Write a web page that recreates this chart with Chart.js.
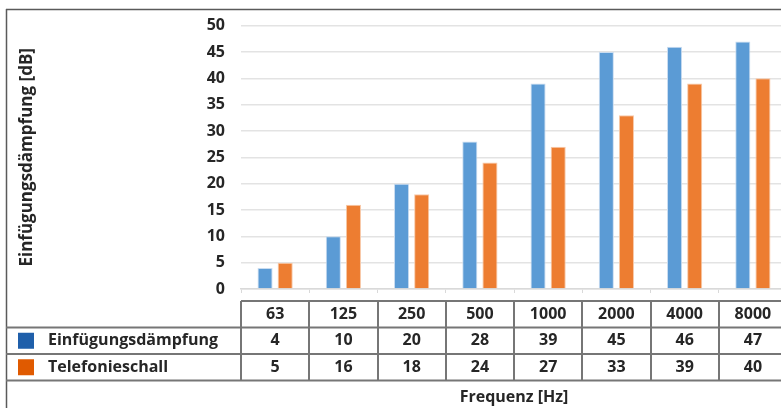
<!DOCTYPE html>
<html>
<head>
<meta charset="utf-8">
<script src="https://cdn.jsdelivr.net/npm/chart.js@4/dist/chart.umd.min.js"></script>
<style>
  html, body { margin: 0; padding: 0; background: #fff; overflow: hidden; }
  #wrap { width: 787px; height: 408px; }
</style>
</head>
<body>
<div id="wrap"><canvas id="chart" width="787" height="408"></canvas></div>
<script>
// Data
const frequencies = ["63", "125", "250", "500", "1000", "2000", "4000", "8000"];
const einfuegung = [4, 10, 20, 28, 39, 45, 46, 47];
const telefonie = [5, 16, 18, 24, 27, 33, 39, 40];
const seriesNames = ["Einfügungsdämpfung", "Telefonieschall"];

const FONT = "'Open Sans', Roboto, sans-serif";
const TEXT = "#262626";
const LINE = "#767676";

// Data table under the plot
const dataTable = {
  id: "dataTable",
  afterDraw(chart) {
    const { ctx, scales: { x } } = chart;
    const W = chart.width;
    const half = (x.getPixelForValue(1) - x.getPixelForValue(0)) / 2;
    const rows = [301, 327.5, 354, 380.5];
    const legendColors = ["#1F5FAA", "#E05A00"];
    const values = [einfuegung, telefonie];

    ctx.save();
    // outer frame
    ctx.strokeStyle = "#5a5a5a";
    ctx.lineWidth = 1.5;
    ctx.beginPath();
    ctx.moveTo(6, 9.5); ctx.lineTo(W, 9.5);
    ctx.moveTo(6.5, 9); ctx.lineTo(6.5, chart.height);
    ctx.stroke();

    // grid of the table
    ctx.strokeStyle = LINE;
    ctx.lineWidth = 2;
    ctx.beginPath();
    ctx.moveTo(x.left, rows[0]); ctx.lineTo(W, rows[0]);
    for (let r = 1; r < rows.length; r++) {
      ctx.moveTo(6, rows[r]); ctx.lineTo(W, rows[r]);
    }
    for (let i = 0; i <= frequencies.length; i++) {
      const px = Math.round(x.getPixelForValue(i) - half);
      ctx.moveTo(px, rows[0]); ctx.lineTo(px, rows[3]);
    }
    ctx.stroke();

    // texts
    ctx.fillStyle = TEXT;
    ctx.font = "bold 16px " + FONT;
    ctx.textAlign = "center";
    ctx.textBaseline = "middle";
    frequencies.forEach((f, i) => {
      const cx = x.getPixelForValue(i);
      ctx.fillText(f, cx, (rows[0] + rows[1]) / 2);
      values.forEach((vals, s) => {
        ctx.fillText(String(vals[i]), cx, (rows[s + 1] + rows[s + 2]) / 2);
      });
    });

    ctx.textAlign = "left";
    seriesNames.forEach((name, s) => {
      const cy = (rows[s + 1] + rows[s + 2]) / 2;
      ctx.fillStyle = legendColors[s];
      ctx.fillRect(18, cy - 8, 16, 16);
      ctx.fillStyle = TEXT;
      ctx.fillText(name, 48, cy);
    });
    ctx.restore();
  }
};

new Chart(document.getElementById("chart"), {
  type: "bar",
  data: {
    labels: frequencies,
    datasets: [
      {
        label: seriesNames[0],
        data: einfuegung,
        backgroundColor: "#5B9BD5",
        borderColor: "#C9DCF0",
        borderWidth: 1,
        barPercentage: 0.75,
        categoryPercentage: 0.59
      },
      {
        label: seriesNames[1],
        data: telefonie,
        backgroundColor: "#ED7D31",
        borderColor: "#F8C9A8",
        borderWidth: 1,
        barPercentage: 0.75,
        categoryPercentage: 0.59
      }
    ]
  },
  options: {
    responsive: false,
    animation: false,
    layout: { padding: { top: 25, left: 0, right: 0, bottom: 0 } },
    plugins: {
      legend: { display: false },
      tooltip: { enabled: false }
    },
    scales: {
      x: {
        ticks: { display: false },
        grid: {
          offset: true,
          drawOnChartArea: false,
          drawTicks: true,
          tickLength: 4,
          color: "#d9d9d9"
        },
        border: { color: "#d9d9d9", width: 1.5 },
        title: {
          display: true,
          text: "Frequenz [Hz]",
          color: TEXT,
          font: { family: FONT, size: 16, weight: "bold" },
          padding: { top: 0, bottom: 1 }
        },
        afterFit: (s) => { s.height = 119; }
      },
      y: {
        min: 0,
        max: 50,
        ticks: {
          stepSize: 5,
          padding: 16,
          color: TEXT,
          font: { family: FONT, size: 16, weight: "bold" }
        },
        grid: { color: "#e3e3e3", lineWidth: 1.5, drawTicks: false },
        border: { display: false },
        title: {
          display: true,
          text: "Einfügungsdämpfung [dB]",
          color: TEXT,
          font: { family: FONT, size: 17, weight: "bold" },
          padding: { top: 17, bottom: 0 }
        },
        afterFit: (s) => { s.width = 241; }
      }
    }
  },
  plugins: [dataTable]
});
</script>
</body>
</html>
